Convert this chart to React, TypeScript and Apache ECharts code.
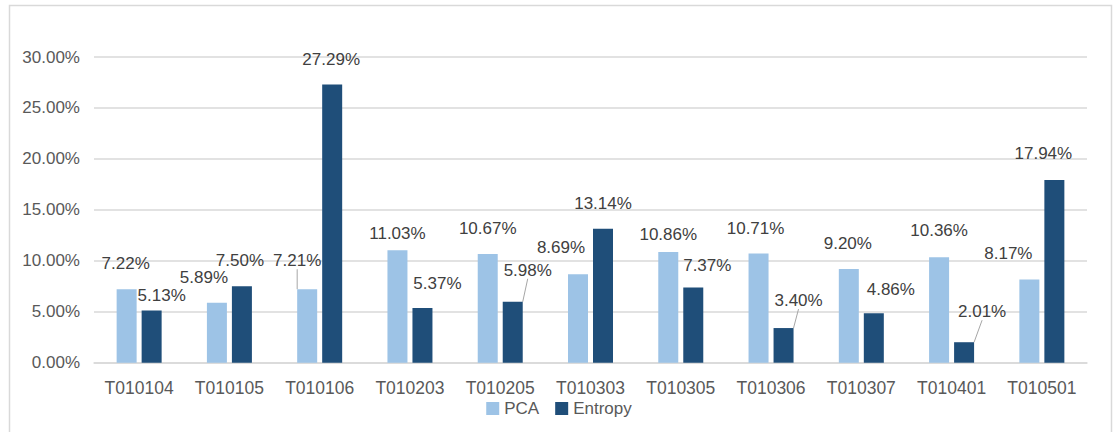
import React, { useEffect, useRef } from "react";
import * as echarts from "echarts";

const categories = ["T010104", "T010105", "T010106", "T010203", "T010205", "T010303", "T010305", "T010306", "T010307", "T010401", "T010501"];
const pcaValues = [7.22, 5.89, 7.21, 11.03, 10.67, 8.69, 10.86, 10.71, 9.2, 10.36, 8.17];
const entropyValues = [5.13, 7.5, 27.29, 5.37, 5.98, 13.14, 7.37, 3.4, 4.86, 2.01, 17.94];
const yTicks = { min: 0, max: 30, interval: 5 };

// label nudges (dx, dy) mimicking the reference's hand-placed data labels
const pcaLabelShift = [[-1, -12], [-13, -12], [-10, -15], [0, -3], [0, -12], [-17, -13], [0, -4], [-3, -12], [-1, -12], [0, -13], [-21, -12]];
const entropyLabelShift = [[10, -1], [-2, -12], [-1, -12], [15, -11], [15, -18], [0, -12], [14, -9], [15, -14], [17, -10], [18, -17], [-11, -13]];
const pcaLeader = [false, false, true, false, false, false, false, false, false, false, false];
const entropyLeader = [false, false, false, false, true, false, false, true, false, true, false];

const FONT = "'Liberation Sans', Arial, sans-serif";

export default function App() {
  const ref = useRef<HTMLDivElement>(null);
  useEffect(() => {
    if (!ref.current) return;
    const chart = echarts.init(ref.current, undefined, { renderer: "svg" });
    const shifts = [pcaLabelShift, entropyLabelShift];
    const mkData = (vals: number[], leaders: boolean[]) =>
      vals.map((v, i) => ({
        value: v,
        labelLine: { show: leaders[i], lineStyle: { color: "#A6A6A6", width: 1 } },
      }));
    const labelCommon = {
      show: true,
      position: "top" as const,
      distance: 5,
      color: "#404040",
      fontSize: 17,
      fontFamily: FONT,
      formatter: (p: any) => Number(p.value).toFixed(2) + "%",
    };
    chart.setOption({
      animation: false,
      backgroundColor: "#ffffff",
      textStyle: { fontFamily: FONT },
      graphic: [
        {
          type: "rect",
          shape: { x: 9.5, y: 5.5, width: 1102, height: 440 },
          style: { fill: "none", stroke: "#D9D9D9", lineWidth: 1.5 },
          silent: true,
          z: -1,
        },
      ],
      grid: { left: 94, right: 31, top: 57, bottom: 69.3, containLabel: false },
      legend: {
        data: ["PCA", "Entropy"],
        bottom: 10,
        left: "center",
        itemWidth: 13,
        itemHeight: 13,
        itemGap: 16,
        icon: "rect",
        textStyle: { color: "#595959", fontSize: 17, fontFamily: FONT },
      },
      xAxis: {
        type: "category",
        data: categories,
        axisLine: { show: true, lineStyle: { color: "#D9D9D9", width: 1.5 } },
        axisTick: { show: false },
        axisLabel: { color: "#595959", fontSize: 17.5, fontFamily: FONT, margin: 16, interval: 0 },
      },
      yAxis: {
        type: "value",
        min: yTicks.min,
        max: yTicks.max,
        interval: yTicks.interval,
        axisLine: { show: false },
        axisTick: { show: false },
        splitLine: { lineStyle: { color: "#D9D9D9", width: 1.5 } },
        axisLabel: {
          color: "#595959",
          fontSize: 17,
          fontFamily: FONT,
          margin: 14,
          formatter: (v: number) => v.toFixed(2) + "%",
        },
      },
      series: [
        {
          name: "PCA",
          type: "bar",
          data: mkData(pcaValues, pcaLeader),
          barWidth: 20,
          barGap: "25%",
          itemStyle: { color: "#9DC3E6" },
          label: labelCommon,
          labelLine: { show: false },
          labelLayout: (p: any) => ({ dx: shifts[0][p.dataIndex][0], dy: shifts[0][p.dataIndex][1] }),
        },
        {
          name: "Entropy",
          type: "bar",
          data: mkData(entropyValues, entropyLeader),
          barWidth: 20,
          barGap: "25%",
          itemStyle: { color: "#1F4E79" },
          label: labelCommon,
          labelLine: { show: false },
          labelLayout: (p: any) => ({ dx: shifts[1][p.dataIndex][0], dy: shifts[1][p.dataIndex][1] }),
        },
      ],
    });
    return () => chart.dispose();
  }, []);
  return (
    <div
      ref={ref}
      style={{ position: "fixed", left: 0, top: 0, width: 1118, height: 432, background: "#fff" }}
    />
  );
}
